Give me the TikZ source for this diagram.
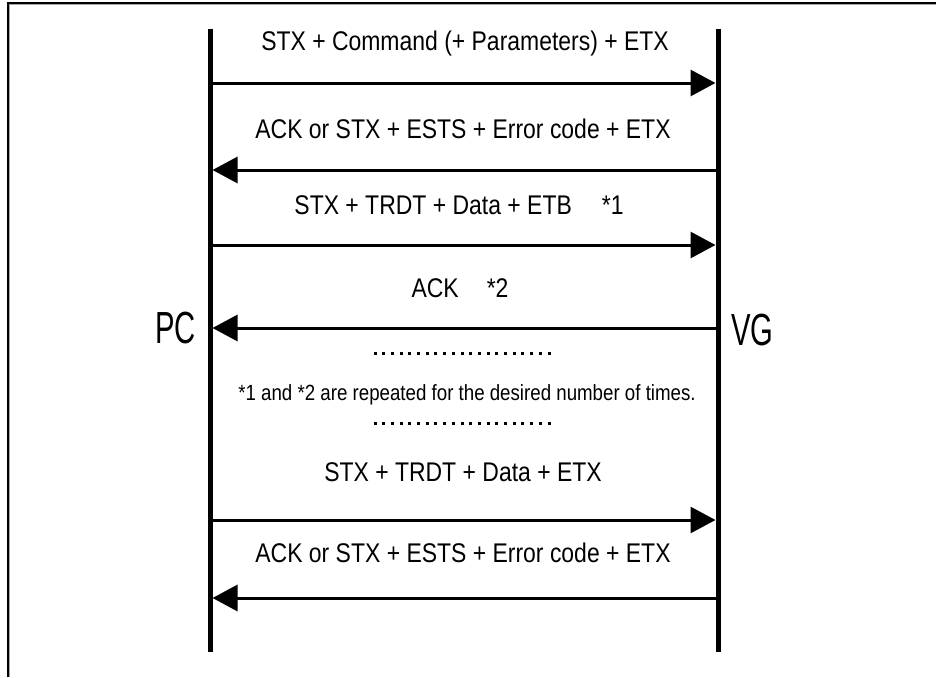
\documentclass[tikz,border=0pt]{standalone}
\usepackage{fontspec}
\setmainfont[FakeStretch=0.85]{Liberation Sans}
\newfontfamily\endfont[FakeStretch=0.65]{Liberation Sans}
\usetikzlibrary{arrows.meta, positioning}

\begin{document}
\begin{tikzpicture}[x=1pt, y=-1pt,
  lifeline/.style={line width=5pt},
  msg/.style={line width=3pt, -{Triangle[length=25pt, width=26pt]}, shorten >=2.5pt},
  lbl/.style={font=\fontsize{27}{30}\selectfont, inner sep=0pt, anchor=base},
  note/.style={font=\fontsize{22}{26}\selectfont, inner sep=0pt, anchor=base},
  party/.style={font=\endfont\fontsize{45}{50}\selectfont, inner sep=0pt}]

\useasboundingbox (0,0) rectangle (936,677);

% frame
\draw[line width=2pt] (7.5,677) -- (7.5,3.5) -- (936,3.5);
\draw[black!35, line width=1pt] (9.5,677) -- (9.5,5) -- (936,5);

% lifelines
\coordinate (pcTop) at (210,29);
\coordinate (pcBot) at (210,652);
\coordinate (vgTop) at (718,29);
\coordinate (vgBot) at (718,652);
\draw[lifeline] (pcTop) -- (pcBot);
\draw[lifeline] (vgTop) -- (vgBot);

\node[party, anchor=base east] (pc) at (196,343) {PC};
\node[party, anchor=base west] (vg) at (731,345) {VG};

% messages
\coordinate (pc1) at (210,83);  \coordinate (vg1) at (718,83);
\coordinate (pc2) at (210,170); \coordinate (vg2) at (718,170);
\coordinate (pc3) at (210,245); \coordinate (vg3) at (718,245);
\coordinate (pc4) at (210,328); \coordinate (vg4) at (718,328);
\coordinate (pc5) at (210,520); \coordinate (vg5) at (718,520);
\coordinate (pc6) at (210,598); \coordinate (vg6) at (718,598);

\draw[msg] (pc1) -- (vg1);
\draw[msg] (vg2) -- (pc2);
\draw[msg] (pc3) -- (vg3);
\draw[msg] (vg4) -- (pc4);
\draw[msg] (pc5) -- (vg5);
\draw[msg] (vg6) -- (pc6);

\node[lbl] (cmd) at (465,51) {STX + Command (+ Parameters) + ETX};
\node[lbl] (ack1) at (463,138) {ACK or STX + ESTS + Error code + ETX};
\node[lbl] (trdt1) at (459,214) {STX + TRDT + Data + ETB\hspace{30pt}*1};
\node[lbl] (ack2) at (460,297) {ACK\hspace{28pt}*2};
\node[note] (rep) at (467,400) {*1 and *2 are repeated for the desired number of times.};
\node[lbl] (trdt2) at (463,481) {STX + TRDT + Data + ETX};
\node[lbl] (ack3) at (463,562) {ACK or STX + ESTS + Error code + ETX};

% dots
\foreach \i in {0,...,20} {
  \fill (373.5+\i*8.7,351.5) rectangle ++(3,3);
  \fill (373.5+\i*8.7,421.5) rectangle ++(3,3);
}

\end{tikzpicture}
\end{document}
